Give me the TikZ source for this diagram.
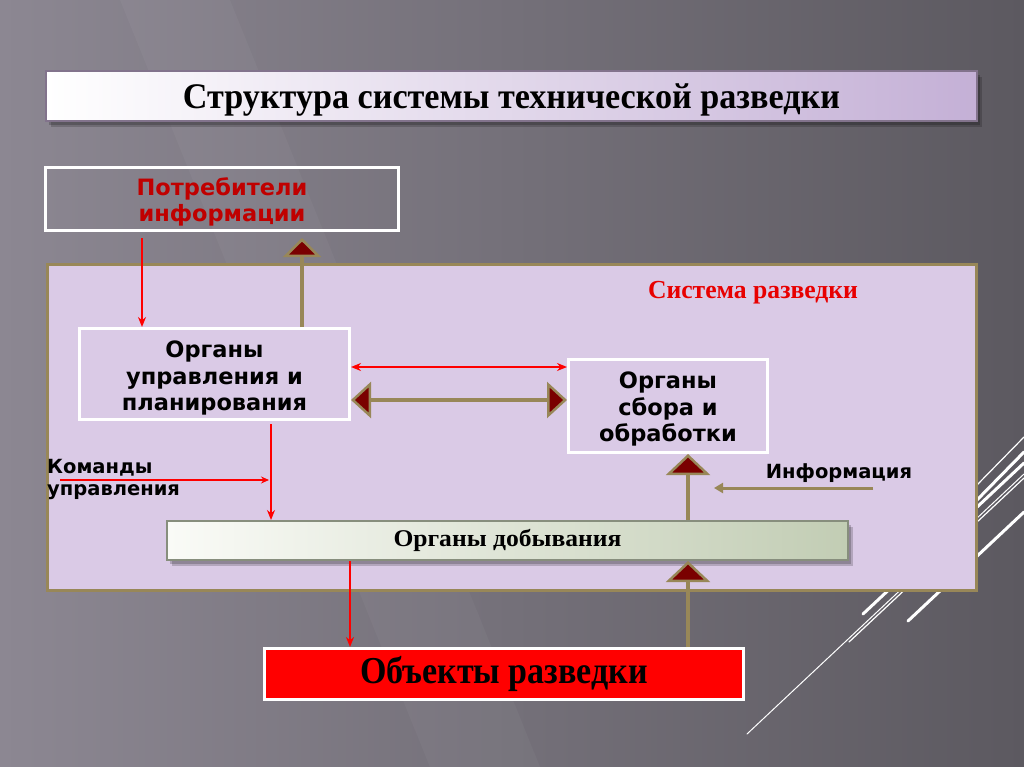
\documentclass[tikz,border=0pt]{standalone}
\usepackage{fontspec}
\setmainfont{Liberation Serif}
\setsansfont{DejaVu Sans}
\usetikzlibrary{arrows.meta,shadows,calc}
\definecolor{olv}{RGB}{152,135,88}
\definecolor{dred}{RGB}{122,0,0}
\definecolor{lav}{RGB}{218,202,230}
\definecolor{tred}{RGB}{192,0,0}
\definecolor{sred}{RGB}{232,0,0}
\definecolor{bgl}{RGB}{140,135,146}
\definecolor{bgr}{RGB}{92,89,96}
\newcommand\fitw[2]{\resizebox{#1}{\height}{#2}}
\newcommand\dropby[2]{\raisebox{-#1}[\height][\depth]{#2}}
\begin{document}
\begin{tikzpicture}[x=1pt,y=-1pt,
  sbox/.style={draw=white, line width=3pt, inner sep=0pt, align=center,
    font=\sffamily\bfseries\fontsize{22.5}{26.5}\selectfont},
  redarr/.style={draw=red, line width=2pt, -{Stealth[length=10pt,width=8pt]}},
  redthin/.style={draw=red, line width=1.5pt, -{Stealth[length=8pt,width=7pt]}},
  olarr/.style={draw=olv, line width=4pt, -{Triangle[length=21pt,width=44pt,fill=dred,line width=2.5pt]}},
  olsmall/.style={draw=olv, line width=4pt, -{Triangle[length=19pt,width=38pt,fill=dred,line width=2.5pt]}},
  oldbl/.style={draw=olv, line width=4pt, {Triangle[length=20pt,width=36pt,fill=dred,line width=2.5pt]}-{Triangle[length=20pt,width=36pt,fill=dred,line width=2.5pt]}},
  olthin/.style={draw=olv, line width=3pt, -{Triangle[length=9pt,width=10pt]}},
  softshadow/.style={drop shadow={shadow xshift=5pt, shadow yshift=-6pt, fill=black, opacity=0.18},
                     drop shadow={shadow xshift=3pt, shadow yshift=-4pt, fill=black, opacity=0.2}},
  deco/.style={draw=white, line cap=round}]
\useasboundingbox (0,0) rectangle (1024,767);
% background
\shade[left color=bgl, right color=bgr] (0,0) rectangle (1024,767);
\fill[white, opacity=0.035] (120,0) -- (230,0) -- (540,767) -- (430,767) -- cycle;
% decorative lines
\draw[deco, line width=1pt] (747,734) -- (1024,474);
\draw[deco, line width=3pt] (863,614) -- (1024,463);
\draw[deco, line width=1.2pt] (849,642) -- (1024,478);
\draw[deco, line width=3pt] (908,621) -- (1024,512);
\draw[deco, line width=1.2pt] (975,487) -- (1024,437);
\draw[deco, line width=3pt] (975,502) -- (1024,452);
% system frame
\node[draw=olv, fill=lav, line width=3pt, minimum width=929pt, minimum height=326pt, inner sep=0pt] (sys) at (512,427.5) {};
\node[text=sred, font=\bfseries\fontsize{26}{30}\selectfont] (systxt) at (753,293) {\fitw{210pt}{Система разведки}};
% title
\node[draw={rgb,255:red,130;green,115;blue,140}, line width=2pt, left color=white, right color={rgb,255:red,196;green,176;blue,214},
  minimum width=931pt, minimum height=50pt, inner sep=0pt, softshadow] (title) at (511.5,96)
  {\dropby{4pt}{\fitw{657pt}{\bfseries\fontsize{36}{40}\selectfont Структура системы технической разведки}}};
% consumers
\node[sbox, text=tred, minimum width=353pt, minimum height=63pt] (cons) at (222,199) {\dropby{4pt}{\begin{tabular}{@{}c@{}}Потребители\\[-1pt]информации\end{tabular}}};
% control organs
\node[sbox, fill=lav, minimum width=270pt, minimum height=91pt] (upr) at (214.5,374) {\dropby{5pt}{\begin{tabular}{@{}c@{}}Органы\\управления и\\планирования\end{tabular}}};
% collection organs
\node[sbox, fill=lav, minimum width=199pt, minimum height=93pt] (sbor) at (668,406) {\dropby{4pt}{\begin{tabular}{@{}c@{}}Органы\\сбора и\\обработки\end{tabular}}};
% acquisition organs
\node[draw={rgb,255:red,135;green,142;blue,125}, line width=2pt, left color={rgb,255:red,250;green,251;blue,247}, right color={rgb,255:red,194;green,205;blue,180},
  minimum width=681pt, minimum height=39pt, inner sep=0pt, softshadow] (dob) at (507.5,540.5)
  {\fitw{228pt}{\bfseries\fontsize{24}{28}\selectfont Органы добывания}};
% objects
\node[draw=white, fill=red, line width=3pt, minimum width=479pt, minimum height=51pt, inner sep=0pt] (obj) at (504,674)
  {\fitw{288pt}{\bfseries\fontsize{38}{40}\selectfont Объекты разведки}};
% labels
\node[anchor=west, align=left, inner sep=0pt, font=\sffamily\bfseries\fontsize{19.5}{22}\selectfont] (cmd) at (47,479) {Команды\\управления};
\node[inner sep=0pt, font=\sffamily\bfseries\fontsize{19.5}{22}\selectfont] (info) at (839,473) {Информация};
% helper coordinates
\coordinate (xA) at (142,0);
\coordinate (xB) at (302,0);
\coordinate (yC) at (0,367);
\coordinate (yD) at (0,400);
\coordinate (xE) at (271,0);
\coordinate (xF) at (688,0);
\coordinate (xG) at (350,0);
\coordinate (k1) at (60,480);
\coordinate (k2) at (269,480);
\coordinate (i1) at (873,488);
\coordinate (i2) at (714,488);
% connectors
\draw[redarr] ($(cons.south -| xA)+(0,6)$) -- (upr.north -| xA);
\draw[olsmall] (upr.north -| xB) -- ($(cons.south -| xB)+(0,6)$);
\draw[redarr, {Stealth[length=10pt,width=8pt]}-{Stealth[length=10pt,width=8pt]}] (upr.east |- yC) -- (sbor.west |- yC);
\draw[oldbl] (upr.east |- yD) -- (sbor.west |- yD);
\draw[redarr] ($(upr.south -| xE)+(0,3)$) -- (dob.north -| xE);
\draw[redthin] (k1) -- (k2);
\draw[olarr] (dob.north -| xF) -- (sbor.south -| xF);
\draw[olthin] (i1) -- (i2);
\draw[redarr] (dob.south -| xG) -- (obj.north -| xG);
\draw[olarr] (obj.north -| xF) -- (dob.south -| xF);
\end{tikzpicture}
\end{document}
